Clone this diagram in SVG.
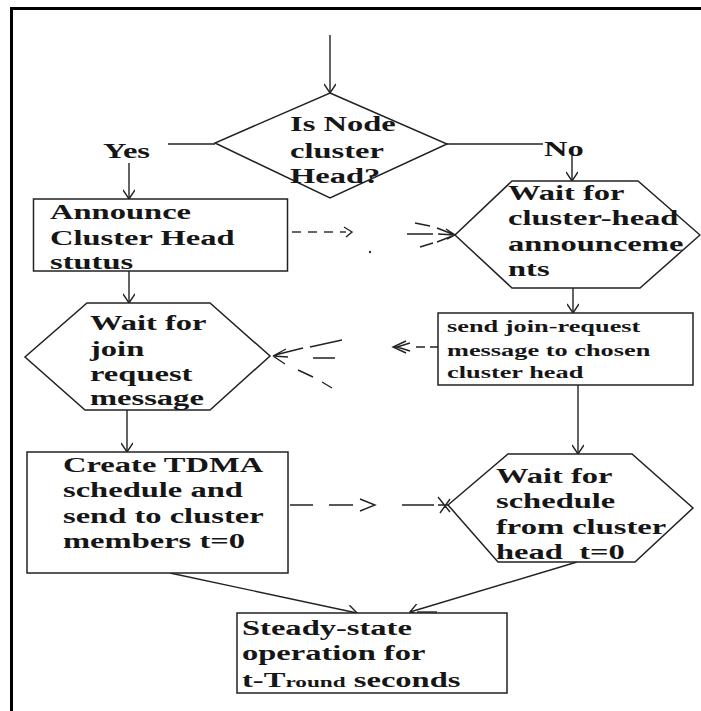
<svg xmlns="http://www.w3.org/2000/svg" width="701" height="711" viewBox="0 0 701 711">
<style>
.bg{fill:#fff}
.frame{stroke:#000;stroke-width:3;fill:none}
.shape{fill:#fff;stroke:#222;stroke-width:1.5}
.ln{stroke:#222;stroke-width:1.4;fill:none}
.ds{stroke:#333;stroke-width:1.4;fill:none;stroke-dasharray:9 7}
.t{font-family:"Liberation Serif","Times New Roman",serif;font-weight:bold;font-size:21px;fill:#161616}
.ts{font-family:"Liberation Serif","Times New Roman",serif;font-weight:bold;font-size:17px;fill:#161616}
</style>
<defs>
<marker id="ah" viewBox="-10 -6 12 12" refX="0" refY="0" markerWidth="12" markerHeight="12" markerUnits="userSpaceOnUse" orient="auto">
<path d="M-9,-6 L0,0 L-9,6" fill="none" stroke="#222" stroke-width="1.4"/>
</marker>
</defs>
<rect class="bg" x="0" y="0" width="701" height="711"/>
<path class="frame" d="M11.5,711 V8.5 H701"/>

<g id="connectors">
<line class="ln" x1="330" y1="35" x2="330" y2="93" marker-end="url(#ah)"/>
<line class="ln" x1="168" y1="144" x2="215" y2="144"/>
<line class="ln" x1="129" y1="163" x2="129" y2="199" marker-end="url(#ah)"/>
<line class="ln" x1="447" y1="144" x2="543" y2="144"/>
<line class="ln" x1="572" y1="152" x2="572" y2="181" marker-end="url(#ah)"/>
<line class="ln" x1="129" y1="271" x2="129" y2="303" marker-end="url(#ah)"/>
<line class="ln" x1="573" y1="288" x2="573" y2="313" marker-end="url(#ah)"/>
<line class="ln" x1="127" y1="410" x2="127" y2="452" marker-end="url(#ah)"/>
<line class="ln" x1="578" y1="385" x2="578" y2="454" marker-end="url(#ah)"/>
<line class="ln" x1="170" y1="573" x2="357" y2="613" marker-end="url(#ah)"/>
<line class="ln" x1="577" y1="562" x2="410" y2="612" marker-end="url(#ah)"/>
<line class="ln" x1="417" y1="612" x2="437" y2="612"/>
<!-- announce -> wait cluster-head (dashed) -->
<line class="ds" x1="292" y1="232" x2="346" y2="232"/>
<path class="ln" d="M344,227 L352,232 L346,237"/>
<circle cx="370" cy="252" r="1.2" fill="#333"/>
<path class="ln" d="M415,223 L430,226 M407,234 L433,234 M420,247 L433,243 M437,228 L455,235 M438,234 L455,235 M437,242 L455,235 M446,229 L455,235 L447,239"/>
<!-- send join -> wait join (dashed) -->
<path class="ln" d="M438,347 L430,347 M425,347 L416,347 M406,341 L393,347 L406,353 M410,343 L397,347 L410,351"/>
<path class="ln" d="M310,347 L342,340 M275,355 L303,348 M313,358 L335,358 M298,370 L313,377 M322,382 L332,388 M273,356 L286,349 M273,356 L288,357 M273,356 L285,364"/>
<!-- create -> wait schedule (dashed) -->
<path class="ln" d="M290,505 L313,505 M329,505 L353,505 M360,499 L375,505 L360,511 M402,505 L434,505 M438,505 L448,505 M438,497 L450,512 M440,513 L450,499"/>
</g>

<g id="n-decision">
<polygon class="shape" points="330,93 447,144 330,198 215,143"/>
<text class="t" transform="translate(290 0) scale(1.55 1)"><tspan x="0" y="131.5">Is Node</tspan><tspan x="0" y="158">cluster</tspan><tspan x="0" y="183">Head?</tspan></text>
</g>
<g id="l-yes"><text class="t" transform="translate(103 0) scale(1.55 1)" x="0" y="158">Yes</text></g>
<g id="l-no"><text class="t" transform="translate(544 0) scale(1.55 1)" x="0" y="156">No</text></g>

<g id="n-announce">
<rect class="shape" x="33.5" y="199" width="254" height="72"/>
<text class="t" transform="translate(50 0) scale(1.55 1)"><tspan x="0" y="219">Announce</tspan><tspan x="0" y="245">Cluster Head</tspan><tspan x="0" y="269">stutus</tspan></text>
</g>

<g id="n-wait-ch">
<polygon class="shape" points="512,181 638,181 700,235 640,288 512,288 455,235"/>
<text class="t" transform="translate(508 0) scale(1.55 1)"><tspan x="0" y="200">Wait for</tspan><tspan x="0" y="225">cluster-head</tspan><tspan x="0" y="251">announceme</tspan><tspan x="0" y="276">nts</tspan></text>
</g>

<g id="n-wait-join">
<polygon class="shape" points="87,303 210,303 270,356 210,410 85,410 25,357"/>
<text class="t" transform="translate(90 0) scale(1.55 1)"><tspan x="0" y="330">Wait for</tspan><tspan x="0" y="356">join</tspan><tspan x="0" y="381">request</tspan><tspan x="0" y="405">message</tspan></text>
</g>

<g id="n-send-join">
<rect class="shape" x="438" y="313" width="255" height="72"/>
<text class="ts" transform="translate(447 0) scale(1.55 1)"><tspan x="0" y="332">send join-request</tspan><tspan x="0" y="356">message to chosen</tspan><tspan x="0" y="378">cluster head</tspan></text>
</g>

<g id="n-create">
<rect class="shape" x="27" y="452" width="261" height="121"/>
<text class="t" transform="translate(63 0) scale(1.55 1)"><tspan x="0" y="472">Create TDMA</tspan><tspan x="0" y="497">schedule and</tspan><tspan x="0" y="523">send to cluster</tspan><tspan x="0" y="548">members t=0</tspan></text>
</g>

<g id="n-wait-sched">
<polygon class="shape" points="508,454 632,454 693,508 635,562 498,562 448,505"/>
<text class="t" transform="translate(496 0) scale(1.55 1)"><tspan x="0" y="483">Wait for</tspan><tspan x="0" y="508">schedule</tspan><tspan x="0" y="534">from cluster</tspan><tspan x="0" y="559">head&#160; t=0</tspan></text>
</g>

<g id="n-steady">
<rect class="shape" x="237" y="613" width="270" height="80"/>
<text class="t" transform="translate(242 0) scale(1.55 1)"><tspan x="0" y="635">Steady-state</tspan><tspan x="0" y="660">operation for</tspan><tspan x="0" y="687">t-T<tspan style="font-size:15px">round</tspan> seconds</tspan></text>
</g>
</svg>
